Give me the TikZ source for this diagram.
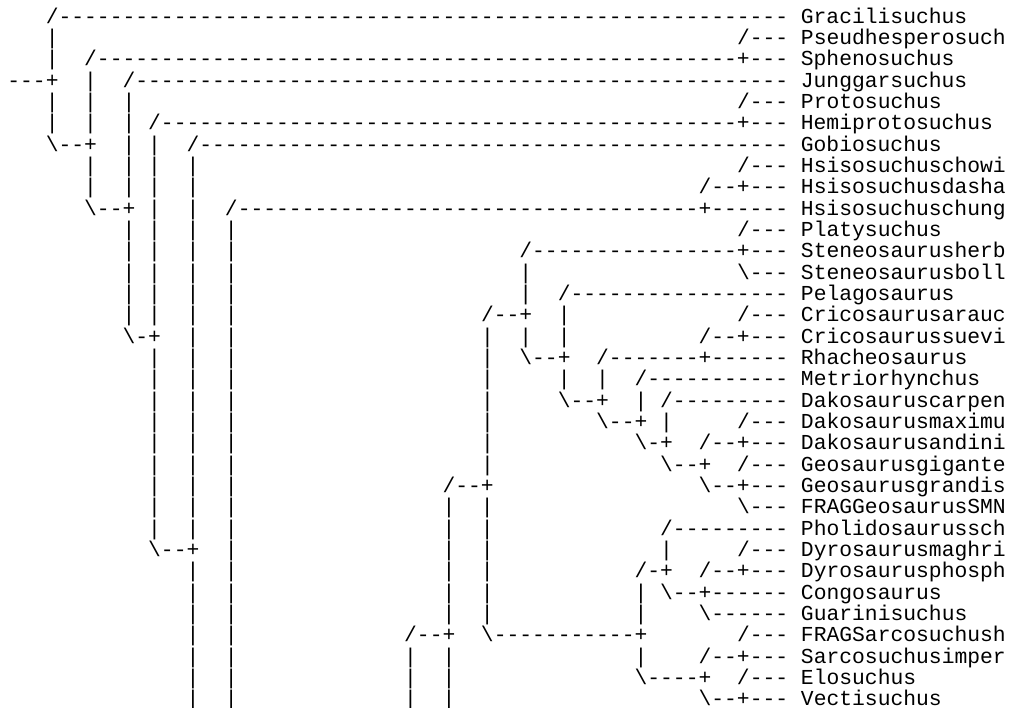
\documentclass[tikz,border=0pt]{standalone}
\usepackage{fontspec}
\setmonofont{Liberation Mono}
\usepackage{tikz}

% one printed line of the tree: blanks in the source are dropped, a dot is a blank column
\ExplSyntaxOn
\NewDocumentCommand \treerow { m }
  {
    \tl_set:Nn \l_tmpa_tl {#1}
    \tl_remove_all:Nn \l_tmpa_tl { ~ }
    \tl_replace_all:Nnn \l_tmpa_tl { . } { \hphantom{-} }
    \tl_use:N \l_tmpa_tl
  }
\ExplSyntaxOff
\newcommand{\bs}{\textbackslash}

\begin{document}
\begin{tikzpicture}[x=1pt, y=-1pt, taxonrow/.style={anchor=base west, inner sep=0pt, outer sep=0pt, font=\ttfamily\fontsize{21.33}{21.33}\selectfont}]
  \useasboundingbox[fill=white] (0, 0) rectangle (1010, 708);
  \node[taxonrow] (Gracilisuchus) at (7.4, 23.30) {\treerow{.../------ ---------- ---------- ---------- ---------- ---------- -. Gracilisuchus}};
  \node[taxonrow] (Pseudhesperosuch) at (7.4, 44.63) {\treerow{...|...... .......... .......... .......... .......... ......./-- -. Pseudhesperosuch}};
  \node[taxonrow] (Sphenosuchus) at (7.4, 65.96) {\treerow{...|../--- ---------- ---------- ---------- ---------- -------+-- -. Sphenosuchus}};
  \node[taxonrow] (Junggarsuchus) at (7.4, 87.29) {\treerow{---+..|../ ---------- ---------- ---------- ---------- ---------- -. Junggarsuchus}};
  \node[taxonrow] (Protosuchus) at (7.4, 108.62) {\treerow{...|..|..| .......... .......... .......... .......... ......./-- -. Protosuchus}};
  \node[taxonrow] (Hemiprotosuchus) at (7.4, 129.95) {\treerow{...|..|..| ./-------- ---------- ---------- ---------- -------+-- -. Hemiprotosuchus}};
  \node[taxonrow] (Gobiosuchus) at (7.4, 151.28) {\treerow{...\bs--+..| .|../----- ---------- ---------- ---------- ---------- -. Gobiosuchus}};
  \node[taxonrow] (Hsisosuchuschowi) at (7.4, 172.61) {\treerow{......|..| .|..|..... .......... .......... .......... ......./-- -. Hsisosuchuschowi}};
  \node[taxonrow] (Hsisosuchusdasha) at (7.4, 193.94) {\treerow{......|..| .|..|..... .......... .......... .......... ..../--+-- -. Hsisosuchusdasha}};
  \node[taxonrow] (Hsisosuchuschung) at (7.4, 215.27) {\treerow{......\bs--+ .|..|../-- ---------- ---------- ---------- ----+----- -. Hsisosuchuschung}};
  \node[taxonrow] (Platysuchus) at (7.4, 236.60) {\treerow{.........| .|..|..|.. .......... .......... .......... ......./-- -. Platysuchus}};
  \node[taxonrow] (Steneosaurusherb) at (7.4, 257.93) {\treerow{.........| .|..|..|.. .......... .......... /--------- -------+-- -. Steneosaurusherb}};
  \node[taxonrow] (Steneosaurusboll) at (7.4, 279.26) {\treerow{.........| .|..|..|.. .......... .......... |......... .......\bs-- -. Steneosaurusboll}};
  \node[taxonrow] (Pelagosaurus) at (7.4, 300.59) {\treerow{.........| .|..|..|.. .......... .......... |../------ ---------- -. Pelagosaurus}};
  \node[taxonrow] (Cricosaurusarauc) at (7.4, 321.92) {\treerow{.........| .|..|..|.. .......... ......./-- +..|...... ......./-- -. Cricosaurusarauc}};
  \node[taxonrow] (Cricosaurussuevi) at (7.4, 343.25) {\treerow{.........\bs -+..|..|.. .......... .......|.. |..|...... ..../--+-- -. Cricosaurussuevi}};
  \node[taxonrow] (Rhacheosaurus) at (7.4, 364.58) {\treerow{.......... .|..|..|.. .......... .......|.. \bs--+../--- ----+----- -. Rhacheosaurus}};
  \node[taxonrow] (Metriorhynchus) at (7.4, 385.91) {\treerow{.......... .|..|..|.. .......... .......|.. ...|..|../ ---------- -. Metriorhynchus}};
  \node[taxonrow] (Dakosauruscarpen) at (7.4, 407.24) {\treerow{.......... .|..|..|.. .......... .......|.. ...\bs--+..| ./-------- -. Dakosauruscarpen}};
  \node[taxonrow] (Dakosaurusmaximu) at (7.4, 428.57) {\treerow{.......... .|..|..|.. .......... .......|.. ......\bs--+ .|...../-- -. Dakosaurusmaximu}};
  \node[taxonrow] (Dakosaurusandini) at (7.4, 449.90) {\treerow{.......... .|..|..|.. .......... .......|.. .........\bs -+../--+-- -. Dakosaurusandini}};
  \node[taxonrow] (Geosaurusgigante) at (7.4, 471.23) {\treerow{.......... .|..|..|.. .......... .......|.. .......... .\bs--+../-- -. Geosaurusgigante}};
  \node[taxonrow] (Geosaurusgrandis) at (7.4, 492.56) {\treerow{.......... .|..|..|.. .......... ..../--+.. .......... ....\bs--+-- -. Geosaurusgrandis}};
  \node[taxonrow] (FRAGGeosaurusSMN) at (7.4, 513.89) {\treerow{.......... .|..|..|.. .......... ....|..|.. .......... .......\bs-- -. FRAGGeosaurusSMN}};
  \node[taxonrow] (Pholidosaurussch) at (7.4, 535.22) {\treerow{.......... .|..|..|.. .......... ....|..|.. .......... ./-------- -. Pholidosaurussch}};
  \node[taxonrow] (Dyrosaurusmaghri) at (7.4, 556.55) {\treerow{.......... .\bs--+..|.. .......... ....|..|.. .......... .|...../-- -. Dyrosaurusmaghri}};
  \node[taxonrow] (Dyrosaurusphosph) at (7.4, 577.88) {\treerow{.......... ....|..|.. .......... ....|..|.. ........./ -+../--+-- -. Dyrosaurusphosph}};
  \node[taxonrow] (Congosaurus) at (7.4, 599.21) {\treerow{.......... ....|..|.. .......... ....|..|.. .........| .\bs--+----- -. Congosaurus}};
  \node[taxonrow] (Guarinisuchus) at (7.4, 620.54) {\treerow{.......... ....|..|.. .......... ....|..|.. .........| ....\bs----- -. Guarinisuchus}};
  \node[taxonrow] (FRAGSarcosuchush) at (7.4, 641.87) {\treerow{.......... ....|..|.. .......... ./--+..\bs-- ---------+ ......./-- -. FRAGSarcosuchush}};
  \node[taxonrow] (Sarcosuchusimper) at (7.4, 663.20) {\treerow{.......... ....|..|.. .......... .|..|..... .........| ..../--+-- -. Sarcosuchusimper}};
  \node[taxonrow] (Elosuchus) at (7.4, 684.53) {\treerow{.......... ....|..|.. .......... .|..|..... .........\bs ----+../-- -. Elosuchus}};
  \node[taxonrow] (Vectisuchus) at (7.4, 705.86) {\treerow{.......... ....|..|.. .......... .|..|..... .......... ....\bs--+-- -. Vectisuchus}};
\end{tikzpicture}
\end{document}
